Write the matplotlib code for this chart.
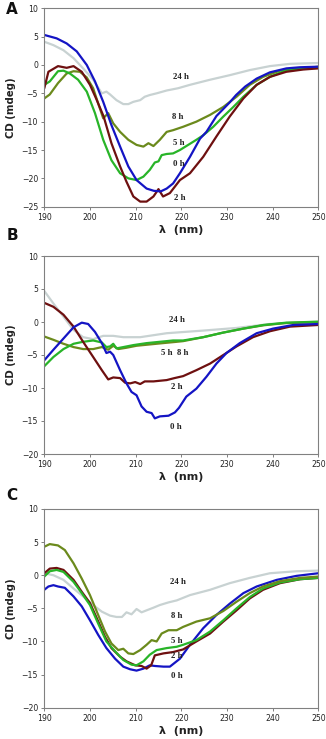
import matplotlib
matplotlib.use("Agg")
import matplotlib.pyplot as plt
import numpy as np

# ---------------- Panel A data ----------------
A_0h_x = [190, 192.7, 194.9, 197.1, 199.3, 201.1, 202.9, 204.7, 206.6, 208.4, 210.2, 212.4, 214, 215.5, 216.8, 218.2,
          219.7, 221.9, 224.1, 225.5, 227.7, 230.6, 232, 234, 236.5, 239.4, 243, 246, 250]
A_0h_y = [5.3, 4.7, 3.8, 2.4, 0.0, -2.9, -6.5, -10.6, -14.4, -17.9, -20.3, -21.8, -22.2, -22.3, -21.8, -20.9,
          -19.1, -16.2, -13.0, -11.8, -9.0, -6.6, -5.3, -3.8, -2.4, -1.3, -0.6, -0.4, -0.3]
A_2h_x = [190, 190.9, 193, 194.9, 196.4, 198.2, 200, 201.5, 203, 204.7, 206.6, 208, 209.5, 211, 212.4, 213.9, 215,
          216, 217.5, 219.7, 221.9, 224.8, 227.7, 230.6, 233.6, 236.5, 239.4, 243, 246.7, 250]
A_2h_y = [-4.1, -1.2, -0.2, -0.5, -0.2, -1.2, -3.5, -6.2, -9.1, -13.8, -17.9, -20.6, -23.2, -24.1, -24.1, -23.2, -21.9,
          -23.2, -22.6, -20.3, -19.1, -16.2, -12.6, -9.1, -5.9, -3.5, -2.1, -1.2, -0.8, -0.6]
A_5h_x = [190, 191.2, 193, 194.2, 195.6, 197.4, 199.3, 201.1, 202.9, 204.7, 206.6, 208.4, 210.2, 211.7, 213.1, 214.2,
          215, 215.7, 216.8, 218.2, 219.7, 221.5, 223.3, 224.8, 227, 229.2, 231.4, 233.6, 236.5, 239.4, 243, 246.7, 250]
A_5h_y = [-3.5, -2.9, -1.1, -1.0, -1.5, -2.6, -4.7, -8.5, -13.2, -16.8, -19.1, -20.0, -20.3, -19.7, -18.5, -17.2,
          -17.0, -15.9, -15.7, -15.6, -15.0, -14.1, -13.2, -12.4, -10.9, -9.1, -7.4, -5.6, -3.5, -2.1, -0.9, -0.6, -0.5]
A_8h_x = [190, 191.2, 193, 194.9, 196.4, 197.8, 199.3, 200.7, 201.8, 202.9, 204, 205.1, 206.6, 208.4, 210.2, 211.7,
          212.8, 213.9, 215.3, 216.8, 218.2, 220.4, 223.3, 226.3, 229.2, 232.1, 235, 237.9, 241.6, 246.7, 250]
A_8h_y = [-5.9, -5.2, -3.2, -1.5, -1.1, -1.2, -2.2, -4.1, -6.8, -9.4, -8.5, -10.3, -11.8, -13.2, -14.1, -14.4,
          -13.8, -14.3, -13.2, -11.8, -11.5, -10.9, -10.0, -8.8, -7.4, -5.6, -3.5, -2.1, -1.0, -0.6, -0.3]
A_24h_x = [190, 192, 194.2, 196.4, 198.5, 200.7, 202.6, 203.6, 204.4, 205.8, 207.3, 208.4, 209.5, 211, 212, 213.1,
           214.6, 216.8, 219.3, 221.9, 226.3, 230.6, 235, 239.4, 243.8, 250]
A_24h_y = [4.1, 3.5, 2.6, 1.2, -0.6, -2.6, -5.0, -4.7, -5.2, -6.2, -6.9, -6.9, -6.5, -6.2, -5.6, -5.3,
           -5.0, -4.5, -4.1, -3.5, -2.6, -1.8, -0.9, -0.2, 0.2, 0.35]

# ---------------- Panel B data ----------------
B_0h_x = [190, 192, 194.2, 196.4, 198.2, 199.6, 201.1, 202.6, 203.6, 204.4, 205.1, 206.6, 208, 209.1, 210.2, 211.3,
          212.4, 213.5, 214.2, 215.3, 217.2, 218.6, 219.5, 221.1, 223.3, 225.5, 227.7, 229.9, 232.8, 236.5, 240.1,
          244.5, 250]
B_0h_y = [-5.8, -4.2, -2.5, -0.8, -0.1, -0.3, -1.5, -3.2, -4.7, -4.5, -5.0, -7.3, -9.3, -10.6, -11.1, -12.8,
          -13.6, -13.8, -14.6, -14.3, -14.2, -13.7, -13.0, -11.3, -10.1, -8.3, -6.3, -4.7, -3.2, -1.7, -1.0,
          -0.45, -0.3]
B_2h_x = [190, 192, 194.2, 196.4, 198.5, 200.7, 202.6, 204, 205.1, 206.6, 207.7, 208.8, 209.9, 211, 212, 213.9,
          216.8, 218.5, 220.4, 223.3, 226.3, 229.2, 232.1, 235.7, 239.4, 243.8, 250]
B_2h_y = [2.9, 2.3, 1.1, -0.7, -3.0, -5.3, -7.3, -8.7, -8.4, -8.5, -9.2, -9.3, -9.1, -9.4, -9.0, -9.0,
          -8.8, -8.5, -8.2, -7.3, -6.3, -5.0, -3.7, -2.3, -1.4, -0.7, -0.45]
B_5h_x = [190, 192, 194.2, 196.4, 198.5, 200.7, 202.6, 203.6, 204.4, 205.1, 205.8, 207.3, 209.5, 212.4, 215.3,
          218.2, 220.4, 224.8, 229.2, 233.6, 238, 243, 250]
B_5h_y = [-6.7, -5.3, -4.1, -3.3, -3.0, -2.8, -3.1, -3.8, -3.7, -3.3, -4.0, -3.8, -3.5, -3.2, -3.0,
          -2.8, -2.8, -2.3, -1.6, -1.0, -0.45, -0.1, 0.05]
B_8h_x = [190, 192, 194.2, 196.4, 198.5, 200.7, 202.6, 204, 205.1, 206.2, 208, 210.2, 213.1, 216, 219, 220.4,
          224.8, 229.2, 233.6, 238, 243, 250]
B_8h_y = [-2.2, -2.7, -3.3, -3.8, -4.1, -4.1, -3.8, -4.2, -3.6, -4.1, -3.9, -3.6, -3.4, -3.2, -3.0, -2.9,
          -2.3, -1.6, -1.0, -0.5, -0.15, -0.05]
B_24h_x = [190, 192, 194.2, 196.4, 198.5, 200.7, 202.9, 205.1, 207.3, 211, 213.9, 216.8, 224.8, 232.1, 239.4, 250]
B_24h_y = [4.7, 2.8, 0.8, -1.2, -2.3, -2.6, -2.1, -2.1, -2.3, -2.3, -2.0, -1.7, -1.3, -0.9, -0.3, 0.05]

# ---------------- Panel C data ----------------
C_0h_x = [190, 190.9, 192, 193, 194.5, 196.4, 198.2, 200, 201.8, 203.6, 205.5, 207.3, 208.8, 210.2, 211.7, 213.1,
          214.2, 216.1, 217.5, 219.7, 221.9, 224.8, 227.7, 230.6, 233.6, 236.5, 240.9, 245.2, 250]
C_0h_y = [-2.2, -1.7, -1.5, -1.7, -1.9, -3.2, -4.7, -6.8, -9.0, -11.0, -12.6, -13.8, -14.2, -14.4, -14.1, -13.6,
          -13.7, -13.8, -13.8, -12.6, -10.5, -8.0, -6.0, -4.3, -2.7, -1.7, -0.7, -0.1, 0.3]
C_2h_x = [190, 191.2, 192.7, 194.2, 196.4, 198.2, 200, 201.5, 203.3, 204.7, 206.6, 208, 209.9, 211.3, 212.4, 213.4,
          214.2, 216.1, 218.2, 220.4, 223.3, 226.3, 229.2, 232.1, 235, 237.9, 241.6, 246, 250]
C_2h_y = [0.3, 1.0, 1.1, 0.8, -0.7, -2.5, -4.2, -6.5, -9.3, -11.0, -12.3, -13.0, -13.6, -13.7, -14.1, -13.6,
          -12.1, -11.8, -11.6, -11.2, -10.0, -8.8, -7.0, -5.3, -3.5, -2.2, -1.2, -0.6, -0.4]
C_5h_x = [190, 191.2, 192.7, 194.2, 196.4, 198.2, 200, 201.8, 203.6, 205.5, 207.3, 209.1, 210.2, 211.7, 213.1,
          214.6, 216.8, 219, 220.4, 223.3, 226.3, 229.2, 232.1, 235, 237.9, 241.6, 246, 250]
C_5h_y = [-0.2, 0.6, 0.8, 0.5, -1.0, -2.7, -4.5, -7.3, -10.0, -11.5, -12.8, -13.5, -13.6, -13.0, -12.0,
          -11.3, -11.0, -10.8, -10.5, -9.8, -8.5, -6.8, -5.0, -3.3, -2.0, -1.1, -0.6, -0.4]
C_8h_x = [190, 191.2, 193, 194.5, 196.4, 198.2, 200, 201.8, 203.3, 204.7, 206.2, 207.3, 208.4, 209.5, 211, 212.4,
          213.5, 214.6, 215.7, 217.2, 219, 220.4, 223.3, 226.3, 229.2, 232.1, 235, 237.9, 241.6, 246, 250]
C_8h_y = [4.3, 4.7, 4.5, 3.8, 1.8, -0.5, -3.0, -6.0, -8.5, -10.3, -11.3, -11.1, -11.8, -11.9, -11.3, -10.5,
          -9.8, -10.0, -8.8, -8.3, -8.3, -7.8, -7.0, -6.5, -5.4, -4.0, -2.7, -1.7, -0.9, -0.4, -0.2]
C_24h_x = [190, 192, 194.2, 196.4, 198.5, 200.7, 202.6, 204.4, 205.8, 207, 208, 209.1, 210.2, 211.3, 212.4, 213.9,
           215.3, 217.2, 219, 221.9, 226.3, 230.6, 235, 239.4, 245.2, 250]
C_24h_y = [0.3, 0.0, -0.7, -2.0, -3.2, -4.5, -5.5, -6.1, -6.3, -6.3, -5.6, -5.9, -5.1, -5.6, -5.3, -4.9,
           -4.5, -4.1, -3.8, -3.0, -2.2, -1.2, -0.4, 0.3, 0.6, 0.7]

# labels: (text, x, y)
A_labels = [("24 h", 220, -2.2), ("8 h", 219.3, -9.2), ("5 h", 219.5, -13.7), ("0 h", 219.5, -17.5), ("2 h", 219.7, -23.5)]
B_labels = [("24 h", 219, 0.3), ("5 h  8 h", 218.5, -4.7), ("2 h", 219, -9.8), ("0 h", 218.7, -15.9)]
C_labels = [("24 h", 219.2, -1.0), ("8 h", 219, -6.2), ("5 h", 219, -10.0), ("2 h", 219, -12.2), ("0 h", 219, -15.2)]

colors = {"0h": "#1414c4", "2h": "#6e1010", "5h": "#28b428", "8h": "#6b8a1c", "24h": "#c8d2d2"}

panels = [
    ("A", {"24h": (A_24h_x, A_24h_y), "8h": (A_8h_x, A_8h_y), "5h": (A_5h_x, A_5h_y),
           "2h": (A_2h_x, A_2h_y), "0h": (A_0h_x, A_0h_y)}, A_labels, (-25, 10)),
    ("B", {"24h": (B_24h_x, B_24h_y), "8h": (B_8h_x, B_8h_y), "5h": (B_5h_x, B_5h_y),
           "2h": (B_2h_x, B_2h_y), "0h": (B_0h_x, B_0h_y)}, B_labels, (-20, 10)),
    ("C", {"24h": (C_24h_x, C_24h_y), "0h": (C_0h_x, C_0h_y), "2h": (C_2h_x, C_2h_y),
           "5h": (C_5h_x, C_5h_y), "8h": (C_8h_x, C_8h_y)}, C_labels, (-20, 10)),
]

W, H = 326, 739
fig = plt.figure(figsize=(W / 100, H / 100), dpi=100)
fig.patch.set_facecolor("white")

boxes = [(8.3, 206.7), (256, 454), (509, 707.7)]
letter_y = [10, 235, 495]
left, right = 44.3, 318.3

for (letter, series, labels, ylim), (top, bot), ly in zip(panels, boxes, letter_y):
    ax = fig.add_axes([left / W, 1 - bot / H, (right - left) / W, (bot - top) / H])
    for key, (xs, ys) in series.items():
        ax.plot(xs, ys, color=colors[key], lw=1.6, solid_capstyle="round", solid_joinstyle="round")
    ax.set_xlim(190, 250)
    ax.set_ylim(*ylim)
    ax.set_xticks(np.arange(190, 251, 10))
    ax.set_yticks(np.arange(ylim[0], 11, 5))
    for s in ax.spines.values():
        s.set_color("#808080")
        s.set_linewidth(0.8)
    ax.tick_params(direction="out", length=2.5, width=0.7, color="#808080",
                   labelsize=5.6, labelcolor="#222222", pad=2)
    ax.set_ylabel("CD (mdeg)", fontsize=7.3, fontweight="bold", labelpad=4, color="#222222")
    ax.set_xlabel("λ  (nm)", fontsize=8, fontweight="bold", labelpad=2, color="#222222")
    for txt, x, y in labels:
        ax.text(x, y, txt, ha="center", va="center", fontsize=6.3, fontweight="bold",
                family="Liberation Serif", color="#222222")
    fig.text(12 / W, 1 - ly / H, letter, fontsize=11, fontweight="bold", ha="center", va="center",
             color="#111111")

fig.savefig("out.png", dpi=100)
